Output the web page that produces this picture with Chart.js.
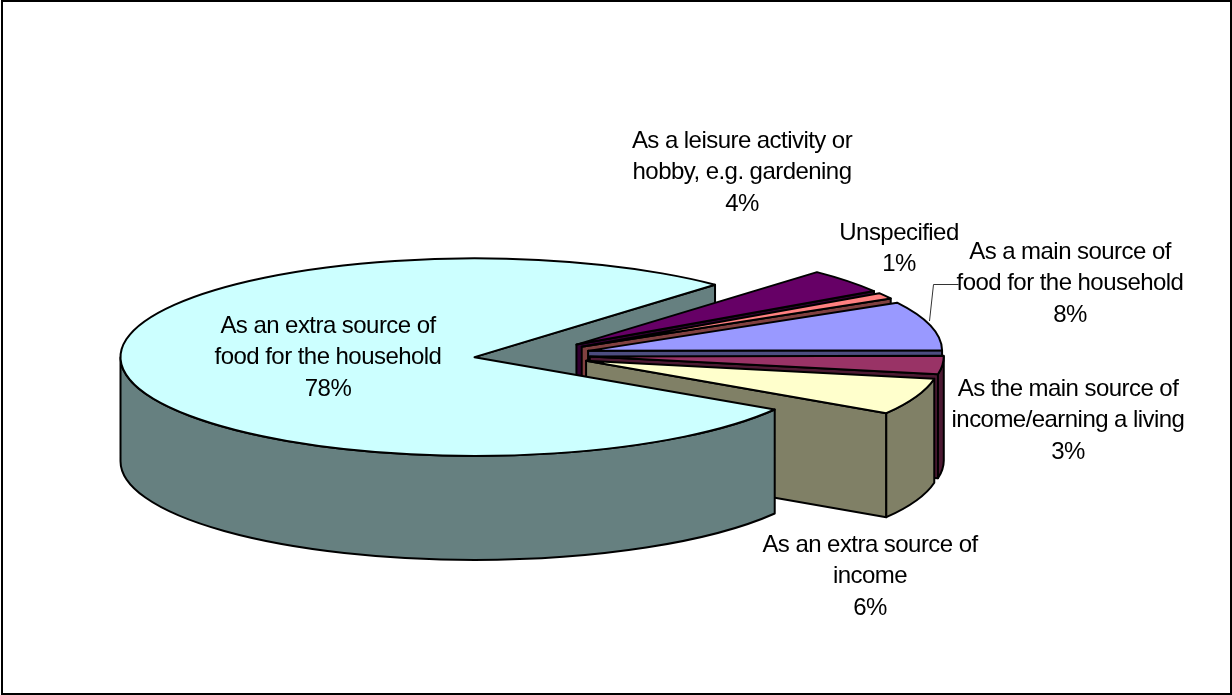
<!DOCTYPE html>
<html>
<head>
<meta charset="utf-8">
<title>Reasons for farming</title>
<style>
  html, body { margin: 0; padding: 0; background: #fff; }
  canvas { display: block; }
</style>
<script src="https://cdn.jsdelivr.net/npm/chart.js@4/dist/chart.umd.min.js"></script>
</head>
<body>
<canvas id="pie" width="1232" height="695"></canvas>
<script>
// Share of respondents per purpose, clockwise from the lower right of the pie
const categories = [
  ['As an extra source of', 'food for the household'],
  ['As a leisure activity or', 'hobby, e.g. gardening'],
  ['Unspecified'],
  ['As a main source of', 'food for the household'],
  ['As the main source of', 'income/earning a living'],
  ['As an extra source of', 'income']
];
const shares = [78, 4, 1, 8, 3, 6];
const topColours = ['#CCFFFF', '#660066', '#FF8080', '#9999FF', '#993366', '#FFFFCC'];
const wallColours = ['#668080', '#330033', '#804040', '#4D4D80', '#4D1A33', '#808066'];

// Projection of the flat pie into its tilted, extruded form
const TILT = 0.279;
const DEPTH = 104;
const EXPLODE = 58;

// Centre of each label block and the y of its first line
const labelAnchors = [
  { x: 328, y: 326 }, { x: 742, y: 141 }, { x: 899, y: 233 },
  { x: 1070, y: 252 }, { x: 1068, y: 389 }, { x: 870, y: 545 }
];
const LINE_GAP = 31.8;

function sliceGeometry(arc) {
  const mid = (arc.startAngle + arc.endAngle) / 2;
  const cy = arc.y;
  return {
    x: arc.x + Math.cos(mid) * arc.options.offset,
    y: cy + Math.sin(mid) * arc.options.offset * TILT,
    a0: arc.startAngle,
    a1: arc.endAngle,
    r: arc.outerRadius,
    ry: arc.outerRadius * TILT
  };
}

function paint(ctx, fill) {
  ctx.fillStyle = fill;
  ctx.fill();
  ctx.stroke();
}

function drawTop(ctx, g, fill) {
  ctx.beginPath();
  ctx.moveTo(g.x, g.y);
  ctx.ellipse(g.x, g.y, g.r, g.ry, 0, g.a0, g.a1);
  ctx.closePath();
  paint(ctx, fill);
}

// Side wall hanging below a straight edge running from the apex to the rim
function drawEdgeWall(ctx, g, angle, fill) {
  const ex = g.x + Math.cos(angle) * g.r;
  const ey = g.y + Math.sin(angle) * g.ry;
  ctx.beginPath();
  ctx.moveTo(g.x, g.y);
  ctx.lineTo(ex, ey);
  ctx.lineTo(ex, ey + DEPTH);
  ctx.lineTo(g.x, g.y + DEPTH);
  ctx.closePath();
  paint(ctx, fill);
}

// Curved wall: only the part of the rim on the viewer's side is visible
function drawRimWall(ctx, g, fill) {
  for (let turn = 0; turn < 2; turn++) {
    const from = Math.max(g.a0, turn * 2 * Math.PI);
    const to = Math.min(g.a1, turn * 2 * Math.PI + Math.PI);
    if (to <= from) continue;
    ctx.beginPath();
    ctx.ellipse(g.x, g.y, g.r, g.ry, 0, from, to);
    ctx.ellipse(g.x, g.y + DEPTH, g.r, g.ry, 0, to, from, true);
    ctx.closePath();
    paint(ctx, fill);
  }
}

const tiltedPie = {
  id: 'tiltedPie',
  beforeDatasetsDraw(chart) {
    const ctx = chart.ctx;
    const arcs = chart.getDatasetMeta(0).data;
    const slices = arcs.map(sliceGeometry);
    ctx.save();
    ctx.strokeStyle = '#000';
    ctx.lineWidth = 2;
    ctx.lineJoin = 'round';

    // Back wall of the large slice shows through the gap left by the others
    const big = slices[0];
    drawEdgeWall(ctx, big, big.a1, wallColours[0]);

    // Smaller slices, back to front
    for (let i = 1; i < slices.length; i++) {
      const g = slices[i];
      drawEdgeWall(ctx, g, g.a1, wallColours[i]);
      drawRimWall(ctx, g, wallColours[i]);
      drawTop(ctx, g, topColours[i]);
    }

    // The large slice sits in front of everything else
    drawRimWall(ctx, big, wallColours[0]);
    drawTop(ctx, big, topColours[0]);
    ctx.restore();
    return false;
  },
  afterDraw(chart) {
    const ctx = chart.ctx;
    ctx.save();

    // Leader line for the food label
    ctx.strokeStyle = '#333';
    ctx.lineWidth = 1;
    ctx.beginPath();
    ctx.moveTo(958.5, 284.5);
    ctx.lineTo(933.5, 284.5);
    ctx.lineTo(929.5, 321);
    ctx.stroke();

    // Category label, then its percentage underneath
    ctx.fillStyle = '#000';
    ctx.font = '24px "Liberation Sans", Arial, sans-serif';
    ctx.letterSpacing = '-0.55px';
    ctx.textAlign = 'center';
    ctx.textBaseline = 'middle';
    categories.forEach((lines, i) => {
      const anchor = labelAnchors[i];
      [...lines, shares[i] + '%'].forEach((text, n) => {
        ctx.fillText(text, anchor.x, anchor.y + n * LINE_GAP);
      });
    });

    // Frame around the chart
    ctx.strokeStyle = '#000';
    ctx.lineWidth = 2;
    ctx.strokeRect(2, 1, 1229, 693);
    ctx.restore();
  }
};

new Chart(document.getElementById('pie'), {
  type: 'pie',
  data: {
    labels: categories.map(lines => lines.join(' ')),
    datasets: [{
      data: shares,
      backgroundColor: topColours,
      offset: EXPLODE,
      borderWidth: 0
    }]
  },
  options: {
    responsive: false,
    animation: false,
    rotation: 122,
    radius: 354,
    layout: { padding: { top: 15, right: 168 } },
    events: [],
    plugins: { legend: { display: false }, tooltip: { enabled: false } }
  },
  plugins: [tiltedPie]
});
</script>
</body>
</html>
